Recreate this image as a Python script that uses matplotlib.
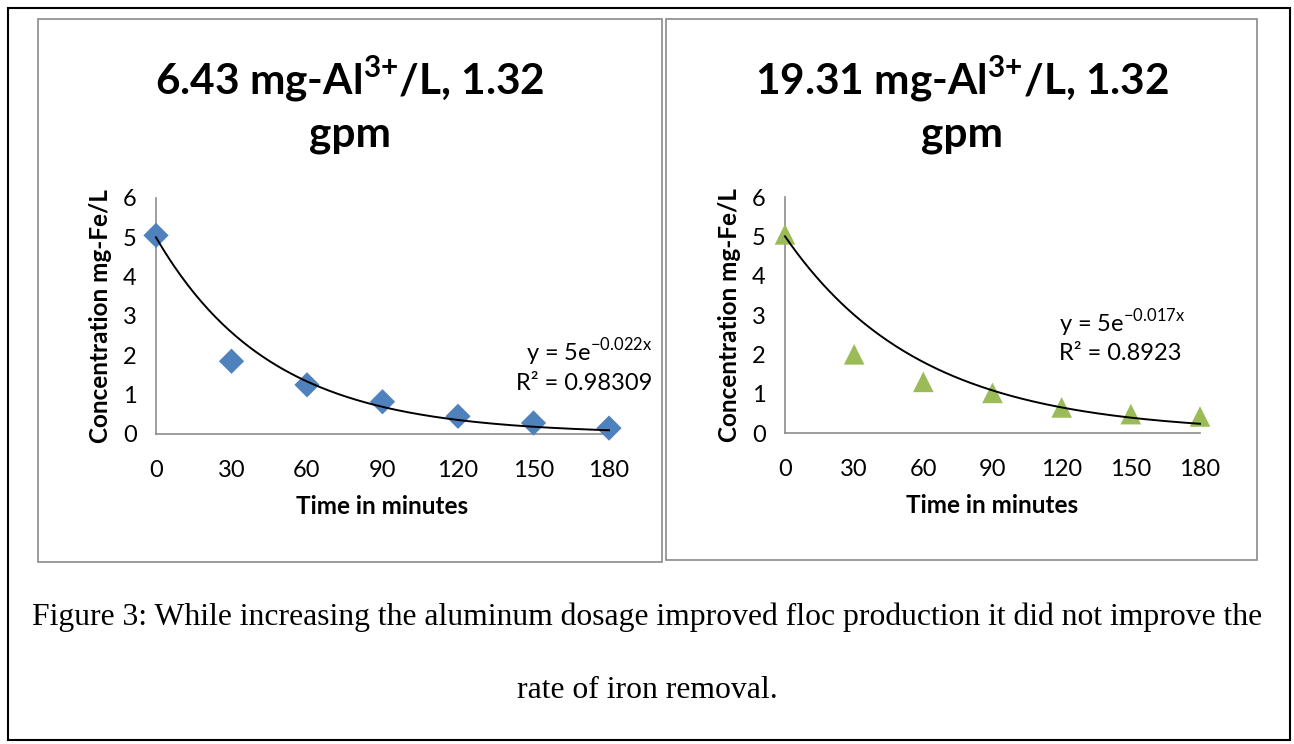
import numpy as np
import matplotlib
matplotlib.use("Agg")
import matplotlib.pyplot as plt
from matplotlib.patches import Rectangle

# ---- data ----
time_min = [0, 30, 60, 90, 120, 150, 180]
conc_low = [5.05, 1.85, 1.25, 0.82, 0.45, 0.28, 0.15]
conc_high = [5.05, 2.0, 1.3, 1.02, 0.65, 0.48, 0.42]
fit_low = (5.0, -0.022)
fit_high = (5.0, -0.017)
r2_low = "0.98309"
r2_high = "0.8923"
yticks = [0, 1, 2, 3, 4, 5, 6]
title_low = "6.43 mg-Al$^{\\mathbf{3{+}}}$/L, 1.32\ngpm"
title_high = "19.31 mg-Al$^{\\mathbf{3{+}}}$/L, 1.32\ngpm"
xlabel = "Time in minutes"
ylabel = "Concentration mg-Fe/L"
caption1 = "Figure 3: While increasing the aluminum dosage improved floc production it did not improve the"
caption2 = "rate of iron removal."

plt.rcParams['font.family'] = ['Lato', 'DejaVu Sans']
plt.rcParams['mathtext.fontset'] = 'custom'
plt.rcParams['mathtext.rm'] = 'Lato'
plt.rcParams['mathtext.bf'] = 'Lato:bold'
plt.rcParams['axes.unicode_minus'] = False

W, H = 1294, 744
fig = plt.figure(figsize=(W / 100, H / 100), dpi=100)
fig.patch.set_facecolor('white')

def fx(px):
    return px / W

def fy(py):
    return 1 - py / H

# outer border and panel borders
fig.patches.append(Rectangle((fx(8), fy(740)), fx(1290) - fx(8), fy(8) - fy(740),
                             transform=fig.transFigure, fill=False, edgecolor='black', lw=1.5))
fig.patches.append(Rectangle((fx(38), fy(562)), fx(662) - fx(38), fy(19) - fy(562),
                             transform=fig.transFigure, fill=False, edgecolor='#8a8a8a', lw=1.2))
fig.patches.append(Rectangle((fx(666), fy(560)), fx(1257) - fx(666), fy(19) - fy(560),
                             transform=fig.transFigure, fill=False, edgecolor='#8a8a8a', lw=1.2))

def make_panel(rect_px, y_, fit, r2, marker, color, msize, title, title_xy, eq_xy, eq_ha):
    x0, x1, yb, yt = rect_px
    ax = fig.add_axes([fx(x0), fy(yb), fx(x1) - fx(x0), fy(yt) - fy(yb)])
    ax.scatter(time_min, y_, marker=marker, s=msize, color=color, zorder=3, clip_on=False,
               edgecolors='none')
    xs = np.linspace(min(time_min), max(time_min), 200)
    ax.plot(xs, fit[0] * np.exp(fit[1] * xs), color='black', lw=1.4, zorder=4, clip_on=False)
    ax.set_xlim(0, 180)
    ax.set_ylim(0, 6)
    ax.set_xticks(time_min)
    ax.set_yticks(yticks)
    for s in ['top', 'right']:
        ax.spines[s].set_visible(False)
    for s in ['left', 'bottom']:
        ax.spines[s].set_color('#8c8c8c')
        ax.spines[s].set_linewidth(1.2)
    ax.tick_params(axis='both', length=0, labelsize=17, colors='black')
    ax.tick_params(axis='x', pad=19)
    ax.tick_params(axis='y', pad=14)
    ax.set_xlabel(xlabel, fontsize=17.5, fontweight='bold', labelpad=10)
    ax.set_ylabel(ylabel, fontsize=17.5, fontweight='bold', labelpad=8)
    ax.patch.set_alpha(0)
    fig.text(fx(title_xy[0]), fy(title_xy[1]), title, ha='center', va='center',
             fontsize=30.5, fontweight='bold', linespacing=1.38)
    eq = "y = 5e$^{\\mathregular{%sx}}$" % ("%g" % fit[1])
    fig.text(fx(eq_xy[0]), fy(eq_xy[1]), eq, ha=eq_ha, va='center', fontsize=17)
    fig.text(fx(eq_xy[0]), fy(eq_xy[1] + 31), "R\u00b2 = " + r2, ha=eq_ha, va='center',
             fontsize=17)
    return ax

make_panel((156, 609, 434, 198), conc_low, fit_low, r2_low, 'D', '#4F81BD', 165,
           title_low, (350, 104), (652, 352), 'right')
make_panel((785, 1200, 433, 197), conc_high, fit_high, r2_high, '^', '#9BBB59', 220,
           title_high, (962, 104), (1059, 323), 'left')

fig.text(0.5, fy(617), caption1, ha='center', va='center', fontsize=22.8,
         family='Liberation Serif')
fig.text(0.5, fy(690), caption2, ha='center', va='center', fontsize=22.8,
         family='Liberation Serif')

fig.savefig('out.png', dpi=100, facecolor='white')
